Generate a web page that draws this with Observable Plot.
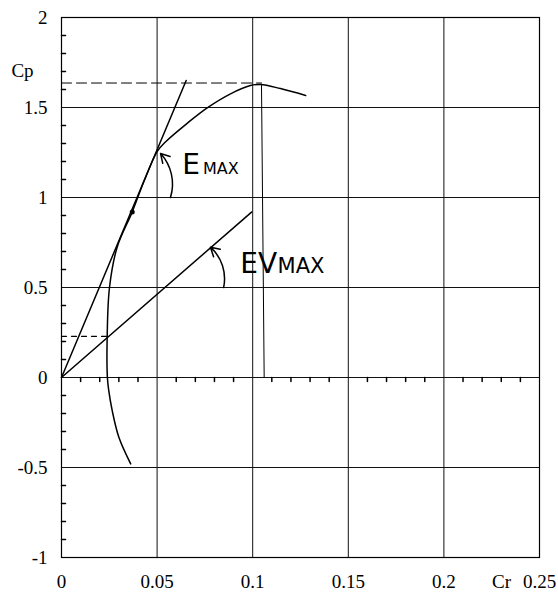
<!DOCTYPE html>
<html>
<head>
<meta charset="utf-8">
<script src="https://cdn.jsdelivr.net/npm/d3@7"></script>
<script src="https://cdn.jsdelivr.net/npm/@observablehq/plot@0.6"></script>
<style>
  html, body { margin: 0; padding: 0; background: #fff; }
</style>
</head>
<body>
<div id="chart"></div>
<script>
// ---- Data ----
const xTicks = [0, 0.05, 0.1, 0.15, 0.2, 0.25];
const yTicks = [-1, -0.5, 0, 0.5, 1, 1.5, 2];
const xTickLabels = ["0", "0.05", "0.1", "0.15", "0.2", "0.25"];
const yTickLabels = ["-1", "-0.5", "0", "0.5", "1", "1.5", "2"];
const xMinor = [0.01, 0.02, 0.03, 0.04, 0.06, 0.07, 0.08, 0.09, 0.11, 0.12, 0.13, 0.14,
                0.16, 0.17, 0.18, 0.19, 0.21, 0.22, 0.23, 0.24];
const yMinor = [-0.9, -0.8, -0.7, -0.6, -0.4, -0.3, -0.2, -0.1, 0.1, 0.2, 0.3, 0.4,
                0.6, 0.7, 0.8, 0.9, 1.1, 1.2, 1.3, 1.4, 1.6, 1.7, 1.8, 1.9];

// drag polar (Cr, Cp)
const polarCr = [0.0362, 0.0300, 0.0265, 0.0247, 0.0240, 0.0239, 0.0251, 0.0291, 0.0370,
                 0.0435, 0.0500, 0.0545, 0.0657, 0.0762, 0.0884, 0.0988, 0.1042, 0.1145, 0.1277];
const polarCp = [-0.48, -0.332, -0.183, -0.072, 0.0, 0.23, 0.50, 0.724, 0.92,
                 1.10, 1.255, 1.31, 1.412, 1.498, 1.576, 1.622, 1.628, 1.605, 1.567];

// tangent line (E max) and E V max line, both from origin
const emaxLineCr = [0, 0.0652];
const emaxLineCp = [0, 1.65];
const evmaxLineCr = [0, 0.0994];
const evmaxLineCp = [0, 0.919];

// tangent point
const tangentCr = [0.037];
const tangentCp = [0.92];

// Cp max construction lines
const cpMaxDashCr = [0, 0.1046];
const cpMaxDashCp = [1.636, 1.636];
const cpMaxDropCr = [0.1046, 0.106];
const cpMaxDropCp = [1.628, 0];

// Cp at E V max construction line
const cpEvDashCr = [0, 0.0239];
const cpEvDashCp = [0.229, 0.229];

// angle arrows
const angleArrows = [
  {x1: 0.0570, y1: 1.0, x2: 0.0518, y2: 1.244},
  {x1: 0.0848, y1: 0.5, x2: 0.0779, y2: 0.724}
];

// annotations
const emaxBig = [{x: 0.0632, y: 1.133, t: "E"}];
const emaxSmall = [{x: 0.0740, y: 1.133, t: "MAX"}];
const evmaxBig = [{x: 0.0935, y: 0.583, t: "EV"}];
const evmaxSmall = [{x: 0.1130, y: 0.578, t: "MAX"}];

// ---- Helpers ----
const pts = (xs, ys) => xs.map((x, i) => ({x, y: ys[i]}));
const tickShape = {draw(context, l) { context.moveTo(0, 0); context.lineTo(0, -l); }};
const serif = "Liberation Serif";
const hand = "DejaVu Sans";

const chart = Plot.plot({
  width: 558,
  height: 596,
  marginLeft: 61,
  marginTop: 17,
  marginRight: 19,
  marginBottom: 39,
  style: {background: "#fff", color: "#000", fontFamily: "'Liberation Serif', serif", fontSize: "19px"},
  x: {domain: [0, 0.25], axis: null},
  y: {domain: [-1, 2], axis: null},
  marks: [
    Plot.gridX(xTicks, {stroke: "#111", strokeOpacity: 1, strokeWidth: 1}),
    Plot.gridY(yTicks, {stroke: "#111", strokeOpacity: 1, strokeWidth: 1}),
    Plot.frame({stroke: "#000", strokeWidth: 1.2}),
    // tick labels
    Plot.text(xTicks, {x: d => d, frameAnchor: "bottom", dy: 30, text: (d, i) => xTickLabels[i],
      fontSize: 19, fontFamily: serif, textAnchor: "middle", fill: "#000"}),
    Plot.text(yTicks, {y: d => d, frameAnchor: "left", dx: -14, text: (d, i) => yTickLabels[i],
      fontSize: 19, fontFamily: serif, textAnchor: "end", fill: "#000"}),
    // minor ticks
    Plot.vector(yMinor, {x: 0, y: d => d, length: 4, rotate: 90, anchor: "start", shape: tickShape, stroke: "#000"}),
    Plot.vector(xMinor, {x: d => d, y: 0, length: 4, rotate: 180, anchor: "start", shape: tickShape, stroke: "#000"}),
    // axis titles
    Plot.text(["Cp"], {frameAnchor: "top-left", dx: -39, dy: 46, fontSize: 19, fontFamily: serif, textAnchor: "middle"}),
    Plot.text(["Cr"], {frameAnchor: "bottom-right", dx: -38, dy: 30, fontSize: 19, fontFamily: serif, textAnchor: "middle"}),
    // construction lines
    Plot.line(pts(cpMaxDashCr, cpMaxDashCp), {x: "x", y: "y", stroke: "#000", strokeWidth: 1, strokeDasharray: "10,5"}),
    Plot.line(pts(cpMaxDropCr, cpMaxDropCp), {x: "x", y: "y", stroke: "#000", strokeWidth: 1}),
    Plot.line(pts(cpEvDashCr, cpEvDashCp), {x: "x", y: "y", stroke: "#000", strokeWidth: 1.3, strokeDasharray: "5,5"}),
    // lines from origin
    Plot.line(pts(emaxLineCr, emaxLineCp), {x: "x", y: "y", stroke: "#000", strokeWidth: 1.5}),
    Plot.line(pts(evmaxLineCr, evmaxLineCp), {x: "x", y: "y", stroke: "#000", strokeWidth: 1.5}),
    // polar
    Plot.line(pts(polarCr, polarCp), {x: "x", y: "y", curve: "catmull-rom", stroke: "#000", strokeWidth: 1.5}),
    Plot.dot(pts(tangentCr, tangentCp), {x: "x", y: "y", r: 2.5, fill: "#000"}),
    // angle arrows
    Plot.arrow(angleArrows, {x1: "x1", y1: "y1", x2: "x2", y2: "y2", bend: -30, stroke: "#000", strokeWidth: 1.5, headLength: 10}),
    // annotations
    Plot.text(emaxBig, {x: "x", y: "y", text: "t", fontSize: 28, fontFamily: hand, textAnchor: "start", lineAnchor: "bottom", fill: "#000"}),
    Plot.text(emaxSmall, {x: "x", y: "y", text: "t", fontSize: 16, fontFamily: hand, textAnchor: "start", lineAnchor: "bottom", fill: "#000"}),
    Plot.text(evmaxBig, {x: "x", y: "y", text: "t", fontSize: 28, fontFamily: hand, textAnchor: "start", lineAnchor: "bottom", fill: "#000"}),
    Plot.text(evmaxSmall, {x: "x", y: "y", text: "t", fontSize: 21, fontFamily: hand, textAnchor: "start", lineAnchor: "bottom", fill: "#000"})
  ]
});
document.getElementById("chart").appendChild(chart);
</script>
</body>
</html>
